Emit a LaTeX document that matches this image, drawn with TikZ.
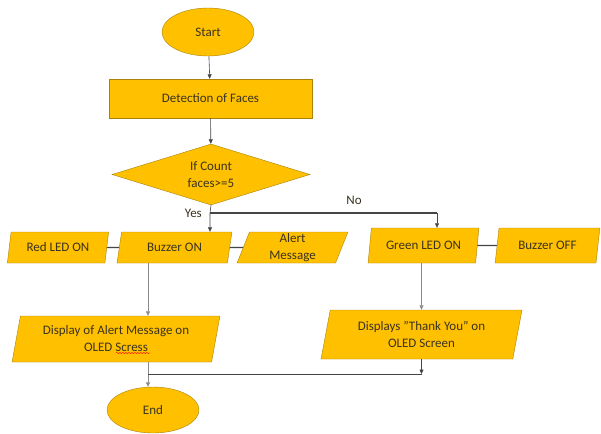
\documentclass[tikz,border=0pt]{standalone}
\usepackage{fontspec}
\setmainfont{Carlito}
\usetikzlibrary{arrows.meta,positioning,shapes.geometric,decorations.pathmorphing}
\definecolor{gold}{HTML}{FFC000}
\definecolor{goldline}{HTML}{A8820A}
\definecolor{flowtext}{HTML}{3A3320}
\definecolor{wire}{HTML}{454545}
\definecolor{lightwire}{HTML}{8A8A8A}
\tikzset{
  base/.style={draw=goldline, fill=gold, text=flowtext, align=center,
    font=\fontsize{13}{17}\selectfont, inner sep=1pt},
  terminal/.style={base, ellipse, minimum width=92pt, minimum height=48pt},
  process/.style={base, rectangle, minimum width=203pt, minimum height=39pt},
  decision/.style={base, diamond, aspect=3.2, inner sep=0pt,
    minimum width=198pt, minimum height=61pt},
  iobox/.style={base, trapezium, trapezium left angle=77,
    trapezium right angle=103, trapezium stretches=true},
  arr/.style={-{Triangle[length=4.5pt,width=4pt]}, draw=wire, line width=0.6pt},
  softarr/.style={arr, draw=lightwire},
  link/.style={draw=wire, line width=1.1pt},
  branchlbl/.style={font=\fontsize{13}{15}\selectfont, text=flowtext, inner sep=0pt}
}
\begin{document}
\begin{tikzpicture}[x=1pt,y=-1pt]
  \useasboundingbox[fill=white] (0,0) rectangle (601,433);

  % main column
  \node[terminal] (start) at (208,32) {Start};
  \node[process] (detect) at (210.5,98.5) {Detection of Faces};
  \node[decision] (decide) at (211,174.5) {If Count\\faces>=5};

  % yes branch
  \node[iobox, minimum width=102pt, minimum height=31pt] (redled) at (58,247.5) {Red LED ON};
  \node[iobox, minimum width=115pt, minimum height=31pt] (buzon) at (174.5,247.5) {Buzzer ON};
  \node[iobox, minimum width=111pt, minimum height=31pt] (alert) at (292.5,247.5) {Alert\\Message};
  \node[iobox, minimum width=208pt, minimum height=46pt] (showalert) at (116,339) {Display of Alert Message on\\OLED Scress};

  % no branch
  \node[iobox, minimum width=111pt, minimum height=35pt] (greenled) at (423.5,245.5) {Green LED ON};
  \node[iobox, minimum width=105pt, minimum height=35pt] (buzoff) at (547.5,245.5) {Buzzer OFF};
  \node[iobox, minimum width=201pt, minimum height=49pt] (thanks) at (421.5,334.5) {Displays "Thank You" on\\OLED Screen};

  \node[terminal, minimum height=46pt] (stop) at (153,410) {End};

  % branch points
  \coordinate (fork) at (210,213);
  \coordinate (nofork) at (437,213);
  \coordinate (merge) at (148,374);

  \node[branchlbl, left=8pt of fork] (yeslbl) {Yes};
  \node[branchlbl] (nolbl) at (354,200) {No};

  \draw[arr] (start) -- (detect);
  \draw[arr] (detect) -- (decide);
  \draw[arr] (decide.south) -- (fork) -- (fork |- buzon.north);
  \draw[link] (fork) -- (nofork);
  \draw[arr] (nofork) -- (nofork |- greenled.north);

  \draw[link] (redled.east) -- (buzon.west);
  \draw[link] (buzon.east) -- (alert.west);
  \draw[link] (greenled.east) -- (buzoff.west);

  \draw[softarr] (merge |- buzon.south) -- (merge |- showalert.north);
  \draw[softarr] (thanks.north |- greenled.south) -- (thanks.north);

  \draw[softarr] (merge |- showalert.south) -- (merge |- stop.north);
  \draw[link, line width=0.9pt] (merge) -- (thanks.south |- merge);
  \draw[arr] (thanks.south) -- (thanks.south |- merge);

  % spell-check squiggle
  \draw[red, line width=0.4pt, decorate,
    decoration={snake, amplitude=0.6pt, segment length=3pt}] (116,353) -- (150,353);
\end{tikzpicture}
\end{document}
